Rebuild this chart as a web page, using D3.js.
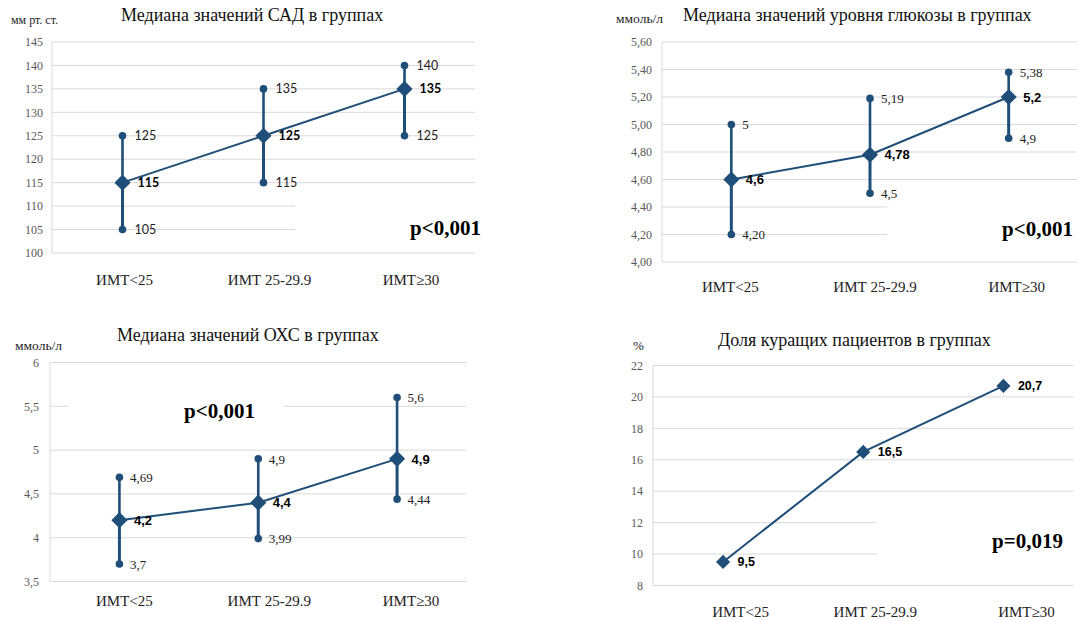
<!DOCTYPE html>
<html>
<head>
<meta charset="utf-8">
<script src="https://cdn.jsdelivr.net/npm/d3@7"></script>
<style>
  body { margin: 0; background: #fff; }
  svg { display: block; }
</style>
</head>
<body>
<div id="chart"></div>
<script>
// Groups on the x axis
const groups = ["ИМТ<25", "ИМТ 25-29.9", "ИМТ≥30"];

// САД (mm Hg)
const sadMedian = [115, 125, 135];
const sadMin = [105, 115, 125];
const sadMax = [125, 135, 140];
const sadTicks = [100, 105, 110, 115, 120, 125, 130, 135, 140, 145];

// glucose (mmol/l)
const glucoseMedian = [4.6, 4.78, 5.2];
const glucoseMin = [4.2, 4.5, 4.9];
const glucoseMax = [5.0, 5.19, 5.38];
const glucoseMedianLabels = ["4,6", "4,78", "5,2"];
const glucoseMinLabels = ["4,20", "4,5", "4,9"];
const glucoseMaxLabels = ["5", "5,19", "5,38"];
const glucoseTicks = [4.0, 4.2, 4.4, 4.6, 4.8, 5.0, 5.2, 5.4, 5.6];

// total cholesterol (mmol/l)
const cholMedian = [4.2, 4.4, 4.9];
const cholMin = [3.7, 3.99, 4.44];
const cholMax = [4.69, 4.9, 5.6];
const cholTicks = [3.5, 4, 4.5, 5, 5.5, 6];

// smokers share (%)
const smokersShare = [9.5, 16.5, 20.7];
const smokersTicks = [8, 10, 12, 14, 16, 18, 20, 22];

const comma = d => String(d).replace(".", ",");

const blue = "#1f4e79";
const grid = "#d9d9d9";
const serif = "'Liberation Serif', 'Times New Roman', serif";
const sans = "'Liberation Sans', Arial, sans-serif";

const svg = d3.select("#chart").append("svg")
    .attr("width", 1077)
    .attr("height", 621);

svg.append("rect").attr("width", 1077).attr("height", 621).attr("fill", "#fff");

const diamond = size => d3.symbol().type(d3.symbolSquare).size(size)();

function drawPanel(p) {
    const g = svg.append("g");

    const x = d3.scaleBand().domain(groups).range([p.left, p.right]);
    const y = d3.scaleLinear().domain(p.domain).range([p.bottom, p.top]);
    const cx = i => x(groups[i]) + x.bandwidth() / 2;

    // gridlines
    g.selectAll(".grid")
      .data(p.ticks)
      .enter()
      .append("line")
      .attr("x1", p.left)
      .attr("x2", p.right)
      .attr("y1", d => y(d))
      .attr("y2", d => y(d))
      .attr("stroke", grid)
      .attr("stroke-width", 1);

    // left axis line
    g.append("line")
      .attr("x1", p.left).attr("x2", p.left)
      .attr("y1", p.top).attr("y2", p.bottom)
      .attr("stroke", grid);

    // tick labels
    g.selectAll(".tick")
      .data(p.ticks)
      .enter()
      .append("text")
      .attr("x", p.left - p.tickGap)
      .attr("y", d => y(d))
      .attr("dy", "0.35em")
      .attr("text-anchor", "end")
      .style("font-family", serif)
      .style("font-size", "12px")
      .attr("fill", "#595959")
      .text(p.tickFormat);

    // white text box covering part of the grid
    g.append("rect")
      .attr("x", p.box[0]).attr("y", p.box[1])
      .attr("width", p.box[2]).attr("height", p.box[3])
      .attr("fill", "#fff");

    g.append("text")
      .attr("x", p.pos[0])
      .attr("y", p.pos[1])
      .style("font-family", serif)
      .style("font-weight", "bold")
      .style("font-size", "21px")
      .attr("fill", "#000")
      .text(p.pText);

    // category labels (Excel puts them slightly right of the point)
    groups.forEach((name, i) => {
        g.append("text")
          .attr("x", cx(i) + p.labelShift[i])
          .attr("y", p.xLabelY)
          .attr("text-anchor", "middle")
          .style("font-family", serif)
          .style("font-size", "15px")
          .attr("fill", "#222")
          .text(name);
    });

    // title and unit
    g.append("text")
      .attr("x", p.titleX)
      .attr("y", p.titleY)
      .style("font-family", serif)
      .style("font-size", "18px")
      .attr("fill", "#111")
      .text(p.title);

    g.append("text")
      .attr("x", p.unitX)
      .attr("y", p.unitY)
      .style("font-family", serif)
      .style("font-size", p.unitSize + "px")
      .attr("fill", "#222")
      .text(p.unit);

    // error bars
    if (p.min) {
        p.median.forEach((m, i) => {
            g.append("line")
              .attr("x1", cx(i)).attr("x2", cx(i))
              .attr("y1", y(m)).attr("y2", y(p.max[i]))
              .attr("stroke", blue).attr("stroke-width", 2.6);
            g.append("line")
              .attr("x1", cx(i)).attr("x2", cx(i))
              .attr("y1", y(m)).attr("y2", y(p.min[i]))
              .attr("stroke", blue).attr("stroke-width", 3);
            [p.min[i], p.max[i]].forEach(v => {
                g.append("circle")
                  .attr("cx", cx(i)).attr("cy", y(v))
                  .attr("r", 3.8).attr("fill", blue);
            });
        });
    }

    // median line
    const line = d3.line()
        .x((d, i) => cx(i))
        .y(d => y(d));

    g.append("path")
      .datum(p.median)
      .attr("d", line)
      .attr("fill", "none")
      .attr("stroke", blue)
      .attr("stroke-width", 2);

    g.selectAll(".marker")
      .data(p.median)
      .enter()
      .append("path")
      .attr("d", diamond(p.markerSize))
      .attr("transform", (d, i) => `translate(${cx(i)},${y(d)}) rotate(45)`)
      .attr("fill", blue);

    // data labels
    p.median.forEach((m, i) => {
        g.append("text")
          .attr("x", cx(i) + p.medOffset)
          .attr("y", y(m))
          .attr("dy", "0.36em")
          .style("font-family", p.labelFont)
          .style("font-weight", "bold")
          .style("font-size", p.medSize + "px")
          .attr("fill", "#000")
          .text(p.medLabels[i]);
        if (p.min) {
            [[p.min[i], p.minLabels[i]], [p.max[i], p.maxLabels[i]]].forEach(([v, t]) => {
                g.append("text")
                  .attr("x", cx(i) + p.rangeOffset)
                  .attr("y", y(v))
                  .attr("dy", "0.36em")
                  .style("font-family", p.rangeFont)
                  .style("font-size", p.rangeSize + "px")
                  .attr("fill", "#222")
                  .text(t);
            });
        }
    });
}

drawPanel({
    left: 52, right: 475, top: 42, bottom: 253,
    domain: [100, 145], ticks: sadTicks, tickFormat: d => d, tickGap: 9,
    median: sadMedian, min: sadMin, max: sadMax,
    medLabels: sadMedian.map(comma), minLabels: sadMin.map(comma), maxLabels: sadMax.map(comma),
    labelFont: "Lato, sans-serif", rangeFont: "Lato, sans-serif",
    medSize: 12.5, rangeSize: 12.5, medOffset: 15, rangeOffset: 12,
    markerSize: 130,
    box: [295, 190, 190, 58], pText: "p<0,001", pos: [410, 235],
    xLabelY: 285, labelShift: [2, 6, 6.5],
    title: "Медиана значений САД в группах", titleX: 121, titleY: 21,
    unit: "мм рт. ст.", unitX: 11, unitY: 24, unitSize: 12
});

drawPanel({
    left: 662, right: 1078, top: 42, bottom: 262,
    domain: [4.0, 5.6], ticks: glucoseTicks, tickFormat: d => d.toFixed(2).replace(".", ","), tickGap: 10,
    median: glucoseMedian, min: glucoseMin, max: glucoseMax,
    medLabels: glucoseMedianLabels, minLabels: glucoseMinLabels, maxLabels: glucoseMaxLabels,
    labelFont: sans, rangeFont: serif,
    medSize: 13, rangeSize: 13, medOffset: 14.5, rangeOffset: 11,
    markerSize: 130,
    box: [887, 190, 190, 66], pText: "p<0,001", pos: [1002, 236],
    xLabelY: 292, labelShift: [-1, 5, 8],
    title: "Медиана значений уровня глюкозы в группах", titleX: 683, titleY: 21,
    unit: "ммоль/л", unitX: 616, unitY: 23, unitSize: 13.5
});

drawPanel({
    left: 50, right: 466.5, top: 362.5, bottom: 581.5,
    domain: [3.5, 6], ticks: cholTicks, tickFormat: comma, tickGap: 11,
    median: cholMedian, min: cholMin, max: cholMax,
    medLabels: cholMedian.map(comma), minLabels: cholMin.map(comma), maxLabels: cholMax.map(comma),
    labelFont: sans, rangeFont: serif,
    medSize: 13, rangeSize: 13, medOffset: 14.5, rangeOffset: 10.5,
    markerSize: 130,
    box: [69, 386, 214, 48], pText: "p<0,001", pos: [184, 418],
    xLabelY: 606, labelShift: [5, 11, 14],
    title: "Медиана значений ОХС в группах", titleX: 117, titleY: 341,
    unit: "ммоль/л", unitX: 15, unitY: 350, unitSize: 13.5
});

drawPanel({
    left: 653, right: 1073.5, top: 365.5, bottom: 585.5,
    domain: [8, 22], ticks: smokersTicks, tickFormat: d => d, tickGap: 10,
    median: smokersShare, min: null,
    medLabels: smokersShare.map(comma),
    labelFont: sans,
    medSize: 12.5, medOffset: 14.5,
    markerSize: 100,
    box: [877, 505, 200, 74], pText: "p=0,019", pos: [992, 548],
    xLabelY: 617, labelShift: [17.5, 12, 23],
    title: "Доля куращих пациентов в группах", titleX: 718, titleY: 346,
    unit: "%", unitX: 633, unitY: 350, unitSize: 13
});
</script>
</body>
</html>
